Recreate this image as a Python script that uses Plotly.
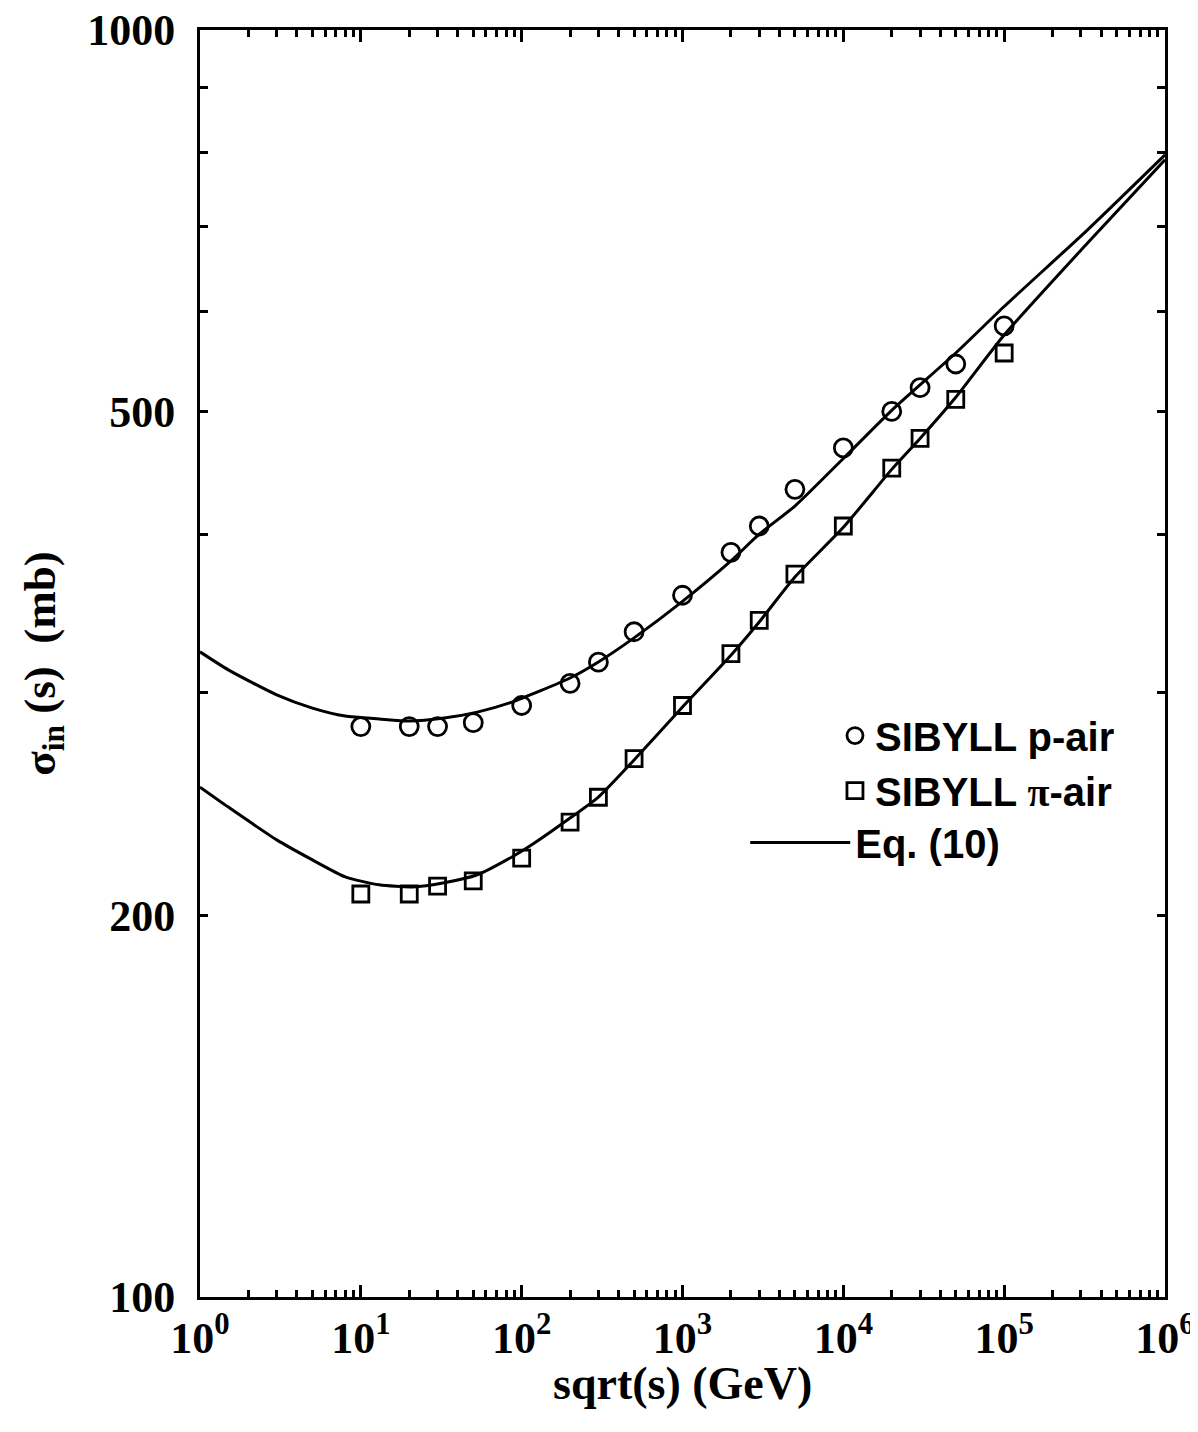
import plotly.graph_objects as go

# ---- data ----
x_sibyll = [10, 20, 30, 50, 100, 200, 300, 500, 1e3, 2e3, 3e3, 5e3, 1e4, 2e4, 3e4, 5e4, 1e5]
p_air = [282, 282, 282, 284, 293, 305, 317, 335, 358, 387, 406, 434, 468, 500, 522, 545, 584]
pi_air = [208, 208, 211, 213, 222, 237, 248, 266, 293, 322, 342, 372, 406, 451, 476, 511, 556]

x_eq_p = [1, 1.5, 3, 5, 8, 13, 20, 33, 53, 87, 200, 300, 500, 1000, 2000, 3000, 5000, 1e4,
          2e4, 5e4, 1e5, 3.3e5, 1e6]
eq_p = [323, 312.6, 298.7, 291.6, 287.4, 285.9, 284.8, 286.4, 289.5, 294.8, 308, 317.1, 331.3,
        354, 381, 400, 421, 459, 501, 556, 605, 695.5, 797]

x_eq_pi = [1, 1.5, 3, 5, 8, 13, 21, 33, 53, 87, 120, 200, 300, 500, 1000, 2000, 3000, 5000,
           1e4, 2e4, 3e4, 5e4, 1e5, 3.3e5, 1e6]
eq_pi = [252.6, 243.6, 229.5, 221.3, 214.6, 211.5, 210.7, 212.3, 215.4, 222.5, 228.2, 238.8,
         248.1, 265.4, 292.2, 321, 341, 370, 405, 450, 476, 513, 574.5, 679, 790]

x_tickvals = [1, 10, 100, 1e3, 1e4, 1e5, 1e6]
x_ticktext = ["10<sup>0</sup>", "10<sup>1</sup>", "10<sup>2</sup>", "10<sup>3</sup>",
              "10<sup>4</sup>", "10<sup>5</sup>", "10<sup>6</sup>"]
x_minor = [m * 10 ** d for d in range(6) for m in range(2, 10)]
y_tickvals = [100, 200, 300, 400, 500, 600, 700, 800, 900, 1000]
y_ticktext = ["100", "200", "", "", "500", "", "", "", "", "1000"]

SERIF = "Liberation Serif"
SANS = "Liberation Sans"

fig = go.Figure()
fig.add_trace(go.Scatter(
    x=x_sibyll, y=p_air, mode="markers", name="<b>SIBYLL p-air</b>", legend="legend",
    marker=dict(symbol="circle-open", size=18, color="black", line=dict(width=2.8, color="black")),
))
fig.add_trace(go.Scatter(
    x=x_sibyll, y=pi_air, mode="markers", legend="legend",
    name="<b>SIBYLL <span style='font-family:Liberation Serif'>π</span>-air</b>",
    marker=dict(symbol="square-open", size=16, color="black", line=dict(width=2.8, color="black")),
))
fig.add_trace(go.Scatter(
    x=x_eq_p, y=eq_p, mode="lines", name="<b>Eq. (10)</b>", legend="legend2",
    line=dict(color="black", width=3, shape="spline", smoothing=0.6),
))
fig.add_trace(go.Scatter(
    x=x_eq_pi, y=eq_pi, mode="lines", showlegend=False,
    line=dict(color="black", width=3, shape="spline", smoothing=0.6),
))

fig.update_layout(
    width=1190, height=1424, autosize=False,
    margin=dict(l=192, r=33, t=22, b=135),
    paper_bgcolor="white", plot_bgcolor="white",
    showlegend=True,
    legend=dict(
        x=0.658, y=0.4688, xanchor="left", yanchor="top",
        font=dict(family=SANS, size=40, color="black"),
        bgcolor="rgba(0,0,0,0)", itemwidth=30, tracegroupgap=0,
    ),
    legend2=dict(
        x=0.565, y=0.3844, xanchor="left", yanchor="top",
        font=dict(family=SANS, size=40, color="black"),
        bgcolor="rgba(0,0,0,0)", itemwidth=100, tracegroupgap=0,
    ),
    xaxis=dict(
        type="log", range=[0, 6], automargin=False, ticklabeloverflow="allow",
        tickmode="array", tickvals=x_tickvals, ticktext=x_ticktext,
        ticks="inside", ticklen=12, tickwidth=2.5, tickcolor="black",
        minor=dict(tickmode="array", tickvals=x_minor, ticks="inside", ticklen=7,
                   tickwidth=2.5, tickcolor="black", showgrid=False),
        showline=True, linewidth=3, linecolor="black", mirror="ticks",
        showgrid=False, zeroline=False,
        tickfont=dict(family=SERIF, size=44, color="black", weight="bold"),
    ),
    yaxis=dict(
        type="log", range=[2, 3], automargin=False, ticklabeloverflow="allow",
        tickmode="array", tickvals=y_tickvals, ticktext=y_ticktext,
        ticks="inside", ticklen=8, tickwidth=2.5, tickcolor="black",
        showline=True, linewidth=3, linecolor="black", mirror="ticks",
        showgrid=False, zeroline=False,
        tickfont=dict(family=SERIF, size=44, color="black", weight="bold"),
        ticklabelstandoff=13,
        title=dict(text="<b>σ<sub>in</sub> (s)  (mb)</b>", font=dict(family=SERIF, size=45, color="black"),
                   standoff=18),
    ),
    annotations=[dict(
        text="<b>sqrt(s) (GeV)</b>", xref="paper", yref="paper", x=0.5, y=-0.068,
        xanchor="center", yanchor="middle", showarrow=False,
        font=dict(family=SERIF, size=46, color="black"),
    )],
)

fig.write_html("out.html")
